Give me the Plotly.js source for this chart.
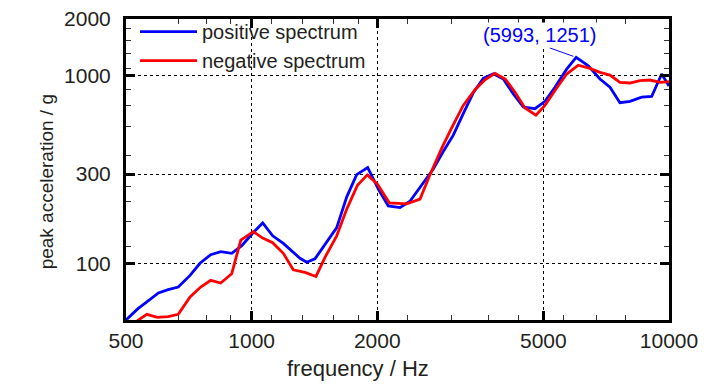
<!DOCTYPE html>
<html>
<head>
<meta charset="utf-8">
<script src="https://cdn.plot.ly/plotly-3.0.1.min.js"></script>
<style>
  html, body { margin: 0; padding: 0; background: #fff; }
  #chart { width: 728px; height: 390px; }
</style>
</head>
<body>
<div id="chart"></div>
<script>
// ---- data ----
const freqPos = [500,535,561,598,631,667,712,752,798,843,896,947,1009,1063,1123,1191,1306,1355,1418,1499,1599,1690,1785,1897,2019,2125,2267,2395,2560,2724,2878,3042,3214,3398,3589,3793,4009,4236,4476,4774,5044,5330,5686,5993,6408,6833,7221,7629,8062,8600,9088,9603,10000];
const accPos  = [50.3,58,62.8,70,73,75.3,86.8,100.7,111.9,116.1,113.7,124.8,146.6,165,140.9,128.3,107,102,106.2,127.4,155.8,227,298,325,246,203,199,215,262,319,395,483,629,812,968,1022,960,800,681,667,730,868,1083,1251,1129,960,868,718,730,769,775,1020,880];

const freqNeg = [500,535,561,594,631,667,712,755,798,843,896,942,1009,1063,1123,1191,1258,1342,1426,1499,1599,1690,1793,1893,2000,2137,2353,2532,2675,2853,3015,3214,3429,3623,3829,4052,4276,4518,4799,5044,5330,5686,6062,6464,6833,7221,7629,8062,8515,9002,9514,10000];
const accNeg  = [44,50.3,53.9,51.9,52.4,53.9,66.7,75.3,81.7,79.1,88.6,133.7,148.4,137.1,129.4,113.7,93,90,85.7,108.3,140.9,195.5,261.5,297,266,211,208.5,220.7,297.6,410.9,528,695,842,950,1028,960,817,673,616,695,834,1020,1137,1093,1041,1007,922,914,941,948,922,930];

const seriesNames = ['positive spectrum', 'negative spectrum'];

const xTickVals = [500, 1000, 2000, 5000, 10000];
const xTickText = ['500', '1000', '2000', '5000', '10000'];
const yTickVals = [100, 300, 1000, 2000];
const yTickText = ['100', '300', '1000', '2000'];
const xMinorVals = [667,778,889,1117,1325,1569,1801,2360,3014,3690,4354,5580,6709,7887];
const yMinorVals = [123,168,214,257,376,535,695,844,1096,1315,1530,1775];

const peakFreq = 5993;
const peakAcc = 1251;
const peakLabel = '(' + peakFreq + ', ' + peakAcc + ')';

const xTitle = 'frequency / Hz';
const yTitle = 'peak acceleration / g';

// ---- chart ----
const FONT = 'Liberation Sans, Arial, sans-serif';
const TXT = '#231f20';

const traces = [
  { x: freqPos, y: accPos, name: seriesNames[0], type: 'scatter', mode: 'lines',
    line: { color: '#0000ff', width: 2.8 } },
  { x: freqNeg, y: accNeg, name: seriesNames[1], type: 'scatter', mode: 'lines',
    line: { color: '#ff0000', width: 2.8 } }
];

const axisCommon = {
  type: 'log',
  showline: true, linecolor: '#000', linewidth: 3, mirror: 'ticks',
  ticks: 'inside', ticklen: 9, tickwidth: 3, tickcolor: '#000',
  showgrid: true, gridcolor: '#000', gridwidth: 1, griddash: 'dot',
  zeroline: false,
  tickfont: { family: FONT, size: 21, color: TXT }
};

const layout = {
  width: 728, height: 390,
  margin: { l: 126, r: 59, t: 16, b: 70 },
  paper_bgcolor: '#fff', plot_bgcolor: '#fff',
  showlegend: true,
  legend: {
    x: 9 / 543, y: 1 + 7 / 304, xanchor: 'left', yanchor: 'top',
    bgcolor: 'rgba(0,0,0,0)', borderwidth: 0,
    font: { family: FONT, size: 20, color: TXT },
    itemwidth: 57, tracegroupgap: 0
  },
  shapes: [
    // white panel behind the legend (hides grid lines, as in the reference)
    { type: 'rect', xref: 'paper', yref: 'paper', x0: 0, x1: (453 - 126) / 543,
      y0: (320 - 70) / 304, y1: 1, fillcolor: '#fff', line: { width: 0 }, layer: 'between' }
  ],
  xaxis: Object.assign({}, axisCommon, {
    range: [Math.log10(500), Math.log10(10000)],
    tickmode: 'array', tickvals: xTickVals, ticktext: xTickText,
    minor: { tickmode: 'array', tickvals: xMinorVals, ticks: 'inside', ticklen: 5, tickwidth: 1, tickcolor: '#333', showgrid: false }
  }),
  yaxis: Object.assign({}, axisCommon, {
    range: [Math.log10(50.3), Math.log10(2000)],
    tickmode: 'array', tickvals: yTickVals, ticktext: yTickText,
    ticklabelstandoff: 8,
    minor: { tickmode: 'array', tickvals: yMinorVals, ticks: 'inside', ticklen: 5, tickwidth: 1, tickcolor: '#333', showgrid: false }
  }),
  annotations: [
    { x: Math.log10(peakFreq), y: Math.log10(peakAcc), xref: 'x', yref: 'y',
      text: '', showarrow: true, arrowhead: 0, arrowwidth: 1, arrowcolor: '#0000ff',
      ax: -28, ay: -10, standoff: 3 },
    { x: Math.log10(peakFreq), y: Math.log10(peakAcc), xref: 'x', yref: 'y',
      text: peakLabel, showarrow: false, xshift: -37, yshift: 22,
      bgcolor: '#fff', font: { family: FONT, size: 20, color: '#0000ff' } },
    { x: (358 - 126) / 543, y: (320 - 369) / 304, xref: 'paper', yref: 'paper',
      text: xTitle, showarrow: false, xanchor: 'center', yanchor: 'middle',
      font: { family: FONT, size: 22, color: TXT } },
    { x: (46 - 126) / 543, y: (320 - 181) / 304, xref: 'paper', yref: 'paper',
      text: yTitle, showarrow: false, textangle: -90, xanchor: 'center', yanchor: 'middle',
      font: { family: FONT, size: 19, color: TXT } }
  ]
};

Plotly.newPlot('chart', traces, layout, { displayModeBar: false, staticPlot: true });
</script>
</body>
</html>
